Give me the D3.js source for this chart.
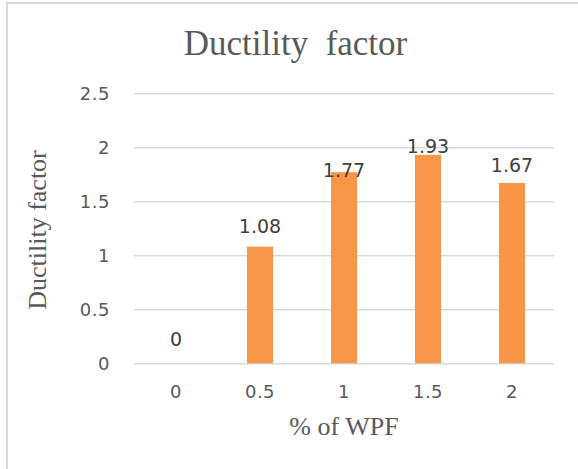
<!DOCTYPE html>
<html>
<head>
<meta charset="utf-8">
<script src="https://cdn.jsdelivr.net/npm/d3@7/dist/d3.min.js"></script>
<style>
  html, body { margin: 0; padding: 0; background: #fff; }
  svg { display: block; }
</style>
</head>
<body>
<svg id="chart" width="578" height="469"></svg>
<script>
// Ductility factor for each WPF dosage
const categories = ["0", "0.5", "1", "1.5", "2"];
const values = [0, 1.08, 1.77, 1.93, 1.67];
const yTicks = [0, 0.5, 1, 1.5, 2, 2.5];
// vertical nudge of each data label from its bar top (px)
const labelNudge = [-17, -14, 4.5, -1.5, -10.5];

const W = 578, H = 469;
const plot = { left: 134, right: 554, top: 93.3, bottom: 363.3 };
const textColor = "#595959";
const gridColor = "#d9d9d9";
const barColor = "#f79646";

const svg = d3.select("#chart");

// chart frame
svg.append("rect")
  .attr("x", 7).attr("y", 3)
  .attr("width", 640).attr("height", 520)
  .attr("fill", "#fff")
  .attr("stroke", gridColor)
  .attr("stroke-width", 2);

const x = d3.scaleBand()
  .domain(categories)
  .range([plot.left, plot.right])
  .paddingInner(0.69)
  .paddingOuter(0.345);

const y = d3.scaleLinear()
  .domain([0, 2.5])
  .range([plot.bottom, plot.top]);

// horizontal gridlines with tick labels
const yAxis = d3.axisLeft(y)
  .tickValues(yTicks)
  .tickSize(-(plot.right - plot.left))
  .tickPadding(24)
  .tickFormat(d => String(d));

const gy = svg.append("g")
  .attr("transform", `translate(${plot.left},0)`)
  .call(yAxis);
gy.select(".domain").remove();
gy.selectAll(".tick line")
  .attr("stroke", gridColor)
  .attr("stroke-width", 1.5);
gy.selectAll(".tick text")
  .attr("fill", textColor)
  .attr("font-family", "'DejaVu Sans', sans-serif")
  .attr("font-size", 18)
  .attr("letter-spacing", 0.5);

// category axis
const xAxis = d3.axisBottom(x).tickSize(0).tickPadding(22);
const gx = svg.append("g")
  .attr("transform", `translate(0,${plot.bottom})`)
  .call(xAxis);
gx.select(".domain").remove();
gx.selectAll(".tick text")
  .attr("fill", textColor)
  .attr("font-family", "'DejaVu Sans', sans-serif")
  .attr("font-size", 18)
  .attr("letter-spacing", 0.5);

// bars
svg.append("g")
  .selectAll("rect")
  .data(values)
  .join("rect")
  .attr("x", (d, i) => x(categories[i]))
  .attr("y", d => y(d))
  .attr("width", x.bandwidth())
  .attr("height", d => y(0) - y(d))
  .attr("fill", barColor);

// data labels
svg.append("g")
  .selectAll("text")
  .data(values)
  .join("text")
  .attr("x", (d, i) => x(categories[i]) + x.bandwidth() / 2)
  .attr("y", (d, i) => y(d) + labelNudge[i])
  .attr("text-anchor", "middle")
  .attr("fill", "#404040")
  .attr("font-family", "'DejaVu Sans', sans-serif")
  .attr("font-size", 19)
  .text(d => String(d));

// chart title
svg.append("text")
  .attr("x", 295.5).attr("y", 55)
  .attr("text-anchor", "middle")
  .attr("fill", textColor)
  .attr("font-family", "'Liberation Serif', 'Times New Roman', serif")
  .attr("font-size", 35)
  .attr("xml:space", "preserve")
  .style("white-space", "pre")
  .text("Ductility  factor");

// axis titles
svg.append("text")
  .attr("transform", "translate(46,230) rotate(-90)")
  .attr("text-anchor", "middle")
  .attr("fill", textColor)
  .attr("font-family", "'Liberation Serif', 'Times New Roman', serif")
  .attr("font-size", 26)
  .text("Ductility factor");

svg.append("text")
  .attr("x", 344).attr("y", 435)
  .attr("text-anchor", "middle")
  .attr("fill", textColor)
  .attr("font-family", "'Liberation Serif', 'Times New Roman', serif")
  .attr("font-size", 26)
  .text("% of WPF");
</script>
</body>
</html>
